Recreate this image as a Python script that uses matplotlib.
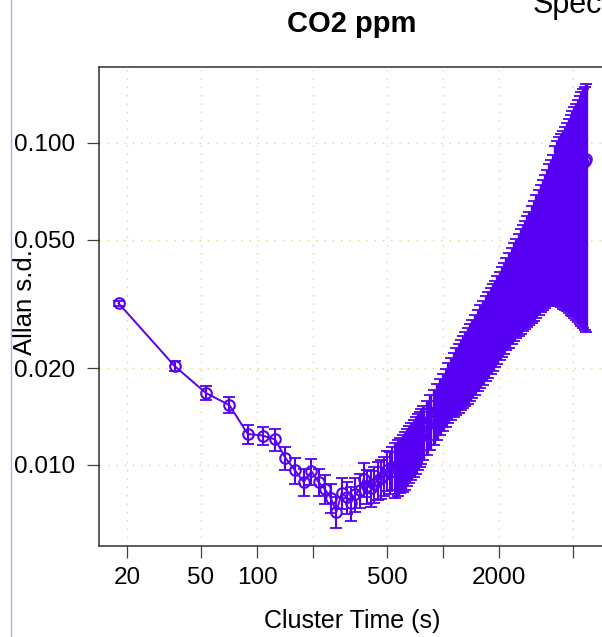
#importar libreria para gráficas
import matplotlib
matplotlib.use("Agg")
from matplotlib import pyplot as plt
from matplotlib.lines import Line2D

#tiempos de agrupamiento (s)
tau = [18, 36, 53, 71, 89, 107, 125, 142, 160, 178,
       196, 214, 231, 249, 267, 285, 303, 320, 338, 356,
       374, 392, 409, 427, 445, 463, 481, 498, 516, 534,
       552, 570, 587, 605, 623, 641, 659, 676, 694, 712,
       730, 748, 765, 783, 819, 854, 890, 926, 961, 997,
       1032, 1068, 1104, 1139, 1175, 1210, 1246, 1282, 1317, 1353,
       1388, 1424, 1477, 1531, 1584, 1638, 1691, 1744, 1798, 1851,
       1905, 1958, 2011, 2065, 2118, 2189, 2261, 2332, 2403, 2474,
       2545, 2617, 2688, 2759, 2830, 2901, 2990, 3079, 3168, 3257,
       3346, 3435, 3524, 3613, 3702, 3791, 3880, 3987, 4094, 4201,
       4308, 4414, 4521, 4628, 4735, 4842, 4948, 5055, 5162, 5287,
       5411, 5536, 5660, 5785, 5874]

#desviacion de Allan
adev = [0.0318, 0.0203, 0.01674, 0.01534, 0.01248, 0.01234, 0.0120, 0.01051, 0.00962, 0.00885,
        0.00955, 0.00885, 0.00842, 0.0079, 0.00715, 0.00818, 0.00795, 0.00762, 0.00812, 0.00836,
        0.00904, 0.0086, 0.00848, 0.00873, 0.00898, 0.00911, 0.00931, 0.00965, 0.00952, 0.00986,
        0.00979, 0.00997, 0.01016, 0.01034, 0.01053, 0.01077, 0.01101, 0.01125, 0.01148, 0.01174,
        0.0120, 0.01225, 0.01252, 0.01279, 0.01329, 0.0138, 0.01431, 0.01486, 0.01539, 0.01597,
        0.01653, 0.01708, 0.01766, 0.01819, 0.01866, 0.01912, 0.01959, 0.02008, 0.02055, 0.02103,
        0.02156, 0.0221, 0.0229, 0.02361, 0.02436, 0.02509, 0.02587, 0.02657, 0.02725, 0.02799,
        0.02875, 0.02959, 0.03048, 0.03138, 0.03224, 0.03338, 0.03442, 0.0355, 0.03656, 0.03764,
        0.0387, 0.03974, 0.0408, 0.04182, 0.04296, 0.04414, 0.04561, 0.04713, 0.04869, 0.05031,
        0.05195, 0.05359, 0.05522, 0.05693, 0.05858, 0.06008, 0.06169, 0.06457, 0.06647, 0.06763,
        0.06876, 0.06983, 0.07127, 0.07282, 0.07432, 0.07583, 0.07745, 0.0789, 0.08028, 0.0819,
        0.08358, 0.08532, 0.08672, 0.08799, 0.08922]

#barras de error
err = [0.0006, 0.00066, 0.0008, 0.00087, 0.00086, 0.0008, 0.00092, 0.00086, 0.00087, 0.00086,
       0.00088, 0.00086, 0.00088, 0.00083, 0.0008, 0.0009, 0.00092, 0.00093, 0.00096, 0.001,
       0.00108, 0.00106, 0.00108, 0.00113, 0.0012, 0.00125, 0.0013, 0.00138, 0.00142, 0.0015,
       0.00187, 0.00194, 0.0020, 0.00208, 0.00215, 0.00219, 0.00224, 0.00229, 0.00232, 0.00235,
       0.00238, 0.0024, 0.00242, 0.00244, 0.00252, 0.00266, 0.00279, 0.00293, 0.00304, 0.00319,
       0.00338, 0.00361, 0.00388, 0.00413, 0.00435, 0.00458, 0.00482, 0.0051, 0.00532, 0.00553,
       0.00577, 0.00601, 0.0064, 0.00669, 0.0070, 0.00732, 0.00767, 0.00794, 0.00813, 0.00837,
       0.0086, 0.00896, 0.00936, 0.00975, 0.01015, 0.01069, 0.01126, 0.01179, 0.01231, 0.01286,
       0.0135, 0.01414, 0.0148, 0.01547, 0.01621, 0.01701, 0.018, 0.01905, 0.02006, 0.02109,
       0.02216, 0.02329, 0.02446, 0.02573, 0.02722, 0.02872, 0.03033, 0.03321, 0.03522, 0.03649,
       0.03785, 0.03925, 0.04097, 0.04284, 0.04466, 0.04659, 0.04853, 0.05028, 0.05208, 0.0541,
       0.05618, 0.0583, 0.06009, 0.06169, 0.06329]

#marcas de los ejes
xticks = [20, 50, 100, 200, 500, 1000, 2000, 5000]
xlabels = ["20", "50", "100", "", "500", "", "2000", ""]
yticks = [0.01, 0.02, 0.05, 0.1]
ylabels = ["0.010", "0.020", "0.050", "0.100"]

color = "#5500f2"
plt.rcParams["font.family"] = ["Liberation Sans", "DejaVu Sans"]

fig = plt.figure(figsize=(6.02, 6.37), dpi=100)
ax = fig.add_axes([99 / 602, 91 / 637, 506 / 602, 479 / 637])
ax.set_xscale("log")
ax.set_yscale("log")
ax.set_xlim(14.14, 7413)
ax.set_ylim(0.0056, 0.1722)

# cuadricula punteada
ax.set_axisbelow(True)
ax.grid(True, which="major", linestyle=(0, (1, 5)), color="#e6d27a", linewidth=1.0)

# serie con barras de error (los primeros puntos separados, el resto muy juntos)
k = 30
ax.plot(tau, adev, color=color, linewidth=1.4, marker="o", markersize=7.6,
        markerfacecolor="none", markeredgewidth=1.5, zorder=3)
ax.errorbar(tau[:k], adev[:k], yerr=err[:k], fmt="none", ecolor=color, elinewidth=1.5,
            capsize=4, capthick=1.3, zorder=3)
ax.errorbar(tau[k:], adev[k:], yerr=err[k:], fmt="none", ecolor=color, elinewidth=2.4,
            capsize=4, capthick=1.3, zorder=3)

ax.set_xticks(xticks)
ax.set_xticklabels(xlabels)
ax.set_yticks(yticks)
ax.set_yticklabels(ylabels)
ax.minorticks_off()
ax.tick_params(axis="both", length=8.6, width=0.9, color="#404040", labelsize=17.5)
ax.tick_params(axis="x", pad=6.5)
ax.tick_params(axis="y", pad=8.6)
for s in ax.spines.values():
    s.set_linewidth(1.1)
    s.set_color("#303030")

ax.set_title("CO2 ppm", fontsize=21, fontweight="bold", pad=25)
ax.set_xlabel("Cluster Time (s)", fontsize=18)
ax.xaxis.set_label_coords(0.5, -0.132)
ax.set_ylabel("Allan s.d.", fontsize=18.5)
ax.yaxis.set_label_coords(-0.122, 0.509)

# titulo del panel vecino, recortado arriba como en la captura
fig.text(533 / 602, 1 - 13 / 637, "Spectral", fontsize=22, va="baseline", ha="left")
# borde azul a la izquierda
fig.add_artist(Line2D([11 / 602, 11 / 602], [0, 1], color="#a5b5e6", linewidth=1.0))

fig.savefig("out.png", dpi=100)
